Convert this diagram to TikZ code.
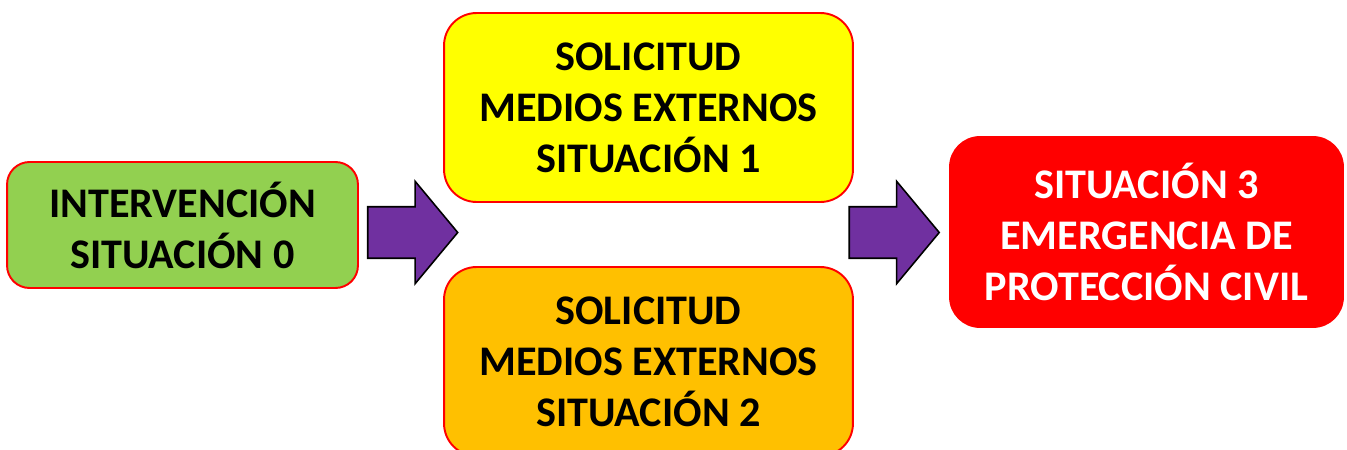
\documentclass[tikz,border=0pt]{standalone}
\usepackage{fontspec}
\setmainfont{Carlito}
\usepackage{tikz}
\usetikzlibrary{positioning,shapes.arrows}
\definecolor{stagegreen} {HTML}{92D050}
\definecolor{stageyellow}{HTML}{FFFF00}
\definecolor{stageorange}{HTML}{FFC000}
\definecolor{stagered}   {HTML}{FF0000}
\definecolor{edgered}    {HTML}{FF0000}
\definecolor{arrpurple}  {HTML}{7030A0}
\tikzset{
  stagebox/.style ={draw=edgered, line width=1.1pt, rounded corners=0.45cm,
                    align=center, inner sep=4pt,
                    font=\fontsize{24}{29}\selectfont\bfseries},
  blockarr/.style ={single arrow, draw=black, fill=arrpurple, line width=0.9pt,
                    inner sep=0pt, inner ysep=0.5cm,
                    minimum height=1.8cm, single arrow head extend=0.51cm,
                    single arrow tip angle=100.5},
}

\begin{document}
\begin{tikzpicture}[x=0.02cm,y=-0.02cm]
    \useasboundingbox (0,0) rectangle (1347,450);

    % ----- stage 0 (green) -----
    \node[stagebox,fill=stagegreen,
          minimum width=7.02cm,minimum height=2.52cm] (sit0) at (182.5,225)
      {INTERVENCIÓN\\SITUACIÓN 0};

    % ----- stages 1 and 2 (external means) -----
    \node[stagebox,fill=stageyellow,rounded corners=0.65cm,
          minimum width=8.18cm,minimum height=3.78cm] (sit1) at (648.5,107.5)
      {SOLICITUD\\MEDIOS EXTERNOS\\SITUACIÓN 1};

    \node[stagebox,fill=stageorange,rounded corners=0.65cm,
          minimum width=8.18cm,minimum height=3.78cm] (sit2) at (648.5,361.5)
      {SOLICITUD\\MEDIOS EXTERNOS\\SITUACIÓN 2};

    % ----- stage 3 (red) -----
    \node[stagebox,fill=stagered,text=white,rounded corners=0.6cm,
          minimum width=7.86cm,minimum height=3.8cm] (sit3) at (1146.5,232)
      {SITUACIÓN 3\\EMERGENCIA DE\\PROTECCIÓN CIVIL};

    % ----- block arrows between the stages -----
    \node[blockarr] (arrA) at (402,232.5) {};
    \node[blockarr] (arrB) at (883.5,232.5) {};
  \end{tikzpicture}
\end{document}
